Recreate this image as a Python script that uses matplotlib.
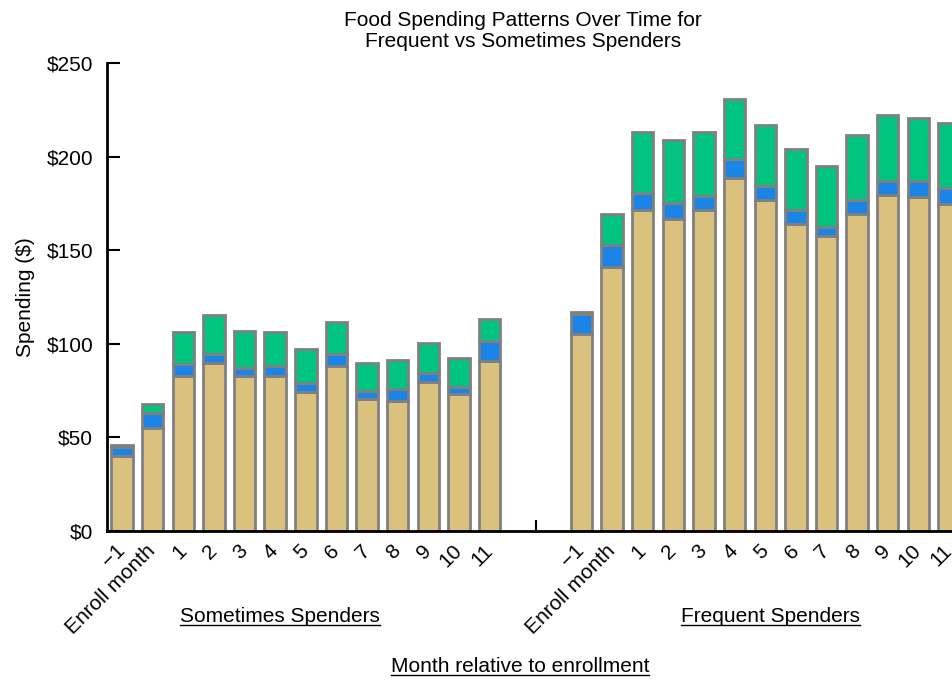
import matplotlib
matplotlib.use("Agg")
import matplotlib.pyplot as plt
from matplotlib.lines import Line2D

plt.rcParams['font.family'] = ['Liberation Sans', 'DejaVu Sans']

months = ["\u22121", "Enroll month", "1", "2", "3", "4", "5", "6", "7", "8", "9", "10", "11"]

# Sometimes Spenders
some_tan = [40, 55, 83, 89.5, 83, 83, 74, 88.4, 70.6, 69.6, 79.5, 73, 91]
some_blue = [5, 8, 6.4, 5.3, 4, 5.3, 5.2, 6.4, 4, 6, 5, 4, 10.5]
some_green = [1.2, 5, 17, 20.7, 19.6, 18.2, 18, 17, 15.3, 15.5, 15.7, 15.6, 11.6]

# Frequent Spenders
freq_tan = [105, 141, 171.7, 166.5, 171.7, 188.4, 176.7, 164.2, 157.8, 169.2, 179.4, 178.3, 174.6]
freq_blue = [11, 12, 8.9, 8.8, 7.5, 10.2, 7.8, 7.5, 4.8, 7.8, 7.6, 8.7, 8.7]
freq_green = [1.2, 16.5, 32.4, 33.7, 33.8, 32.2, 32.4, 32.3, 32.4, 34.7, 35, 33.6, 34.8]

group_names = ["Sometimes Spenders", "Frequent Spenders"]

TAN = "#DBC17E"
BLUE = "#1A85E6"
GREEN = "#00C480"
EDGE = "#808080"
FS = 15

fig = plt.figure(figsize=(9.53, 6.84), dpi=100)
ax = fig.add_axes([107/953, (684-531)/684, 1 - 107/953, (531-63)/684])

n = len(months)
x1 = list(range(n))
x2 = [i + n + 2 for i in range(n)]
w = 0.7
kw = dict(width=w, edgecolor=EDGE, linewidth=2.0)

for xs, tan, blue, green in [(x1, some_tan, some_blue, some_green),
                             (x2, freq_tan, freq_blue, freq_green)]:
    ax.bar(xs, tan, color=TAN, **kw)
    ax.bar(xs, blue, bottom=tan, color=BLUE, **kw)
    b2 = [t + b for t, b in zip(tan, blue)]
    ax.bar(xs, green, bottom=b2, color=GREEN, **kw)

ax.set_xlim(-0.49, x2[-1] + 0.13)
ax.set_ylim(0, 250)
ax.set_yticks([0, 50, 100, 150, 200, 250])
ax.set_yticklabels(["$0", "$50", "$100", "$150", "$200", "$250"], fontsize=FS)
ax.set_xticks(x1 + x2)
ax.set_xticklabels(months + months, rotation=45, ha='right', va='center',
                   rotation_mode='anchor', fontsize=FS)
ax.set_xticks([n + 0.5], minor=True)
ax.tick_params(axis='x', which='major', length=0, pad=12)
ax.tick_params(axis='x', which='minor', length=8, width=1.5, direction='in')
ax.tick_params(axis='y', length=9, width=1.5, direction='in', pad=10)

for s in ['top', 'right']:
    ax.spines[s].set_visible(False)
for s in ['left', 'bottom']:
    ax.spines[s].set_linewidth(2)
    ax.spines[s].set_color('black')

ax.set_ylabel("Spending ($)", fontsize=FS, labelpad=8)
fig.text(523/953, 1 - 31/684,
         "Food Spending Patterns Over Time for\nFrequent vs Sometimes Spenders",
         ha='center', va='center', fontsize=FS, linespacing=1.1)

texts = []
texts.append(fig.text(280/953, 1 - 617/684, group_names[0], ha='center', va='center', fontsize=FS))
texts.append(fig.text(771/953, 1 - 617/684, group_names[1], ha='center', va='center', fontsize=FS))
texts.append(fig.text(520/953, 1 - 667/684, "Month relative to enrollment", ha='center', va='center', fontsize=FS))

fig.canvas.draw()
r = fig.canvas.get_renderer()
for t in texts:
    bb = t.get_window_extent(renderer=r).transformed(fig.transFigure.inverted())
    yl = bb.y0 + 0.002
    fig.add_artist(Line2D([bb.x0, bb.x1], [yl, yl], transform=fig.transFigure,
                          color='black', linewidth=1.0))

fig.savefig("out.png", dpi=100)
